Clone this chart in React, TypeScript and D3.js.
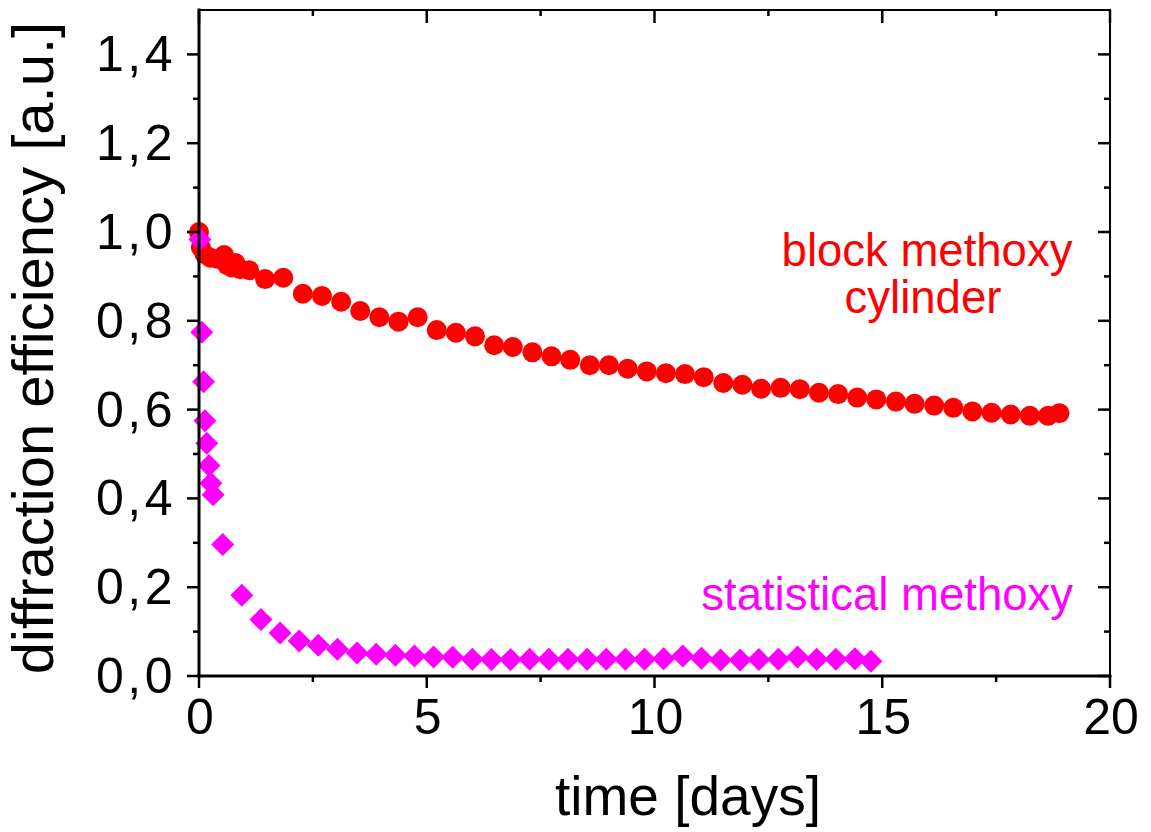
import React from "react";
import * as d3 from "d3";

// block methoxy cylinder (red circles): [time in days, diffraction efficiency]
const blockTime = [0, 0.04, 0.12, 0.25, 0.4, 0.55, 0.62, 0.72, 0.8, 0.9, 1.1, 1.45, 1.85, 2.28, 2.7, 3.12, 3.54, 3.96, 4.38, 4.8, 5.22, 5.64, 6.06, 6.48, 6.89, 7.32, 7.74, 8.15, 8.58, 9.0, 9.41, 9.83, 10.25, 10.67, 11.08, 11.51, 11.93, 12.34, 12.77, 13.19, 13.61, 14.03, 14.45, 14.87, 15.3, 15.71, 16.14, 16.56, 16.98, 17.4, 17.82, 18.24, 18.64, 18.89];
const blockValue = [1.0, 0.965, 0.95, 0.942, 0.94, 0.948, 0.925, 0.92, 0.93, 0.916, 0.914, 0.894, 0.897, 0.861, 0.856, 0.843, 0.822, 0.808, 0.798, 0.808, 0.779, 0.773, 0.765, 0.745, 0.741, 0.729, 0.72, 0.712, 0.7, 0.7, 0.692, 0.686, 0.682, 0.68, 0.673, 0.66, 0.656, 0.647, 0.649, 0.646, 0.638, 0.635, 0.627, 0.623, 0.618, 0.613, 0.609, 0.604, 0.596, 0.593, 0.589, 0.586, 0.586, 0.592];

// statistical methoxy (magenta diamonds)
const statTime = [0.02, 0.06, 0.1, 0.13, 0.17, 0.22, 0.26, 0.31, 0.52, 0.94, 1.36, 1.78, 2.2, 2.62, 3.04, 3.47, 3.89, 4.31, 4.73, 5.15, 5.57, 6.0, 6.42, 6.84, 7.26, 7.68, 8.1, 8.52, 8.94, 9.36, 9.78, 10.2, 10.62, 11.03, 11.45, 11.88, 12.29, 12.72, 13.14, 13.56, 13.98, 14.4, 14.75];
const statValue = [0.983, 0.774, 0.663, 0.575, 0.524, 0.474, 0.434, 0.408, 0.296, 0.182, 0.127, 0.097, 0.079, 0.069, 0.06, 0.052, 0.049, 0.047, 0.045, 0.043, 0.042, 0.038, 0.037, 0.037, 0.038, 0.038, 0.038, 0.038, 0.038, 0.038, 0.038, 0.039, 0.045, 0.04, 0.036, 0.036, 0.037, 0.038, 0.043, 0.038, 0.038, 0.039, 0.033];

const xMajorTicks = [0, 5, 10, 15, 20];
const xMinorTicks = [2.5, 7.5, 12.5, 17.5];
const yMajorTicks = [0, 0.2, 0.4, 0.6, 0.8, 1.0, 1.2, 1.4];
const yMinorTicks = [0.1, 0.3, 0.5, 0.7, 0.9, 1.1, 1.3];

const xTitle = "time [days]";
const yTitle = "diffraction efficiency [a.u.]";
const blockLabel = ["block methoxy", "cylinder"];
const statLabel = "statistical methoxy";

const W = 1151;
const H = 832;
const L = 199, R = 1110, T = 10, B = 676;
const FONT = "'Liberation Sans', Arial, Helvetica, sans-serif";

export default function App() {
  const x = d3.scaleLinear().domain([0, 20]).range([L, R]);
  const y = d3.scaleLinear().domain([0, 1.5]).range([B, T]);
  const fmt = (v: number) => v.toFixed(1).replace(".", ",");
  const r = 11.5;
  const dPath = `M0,${-r}L${r},0L0,${r}L${-r},0Z`;

  return (
    <svg width={W} height={H} style={{ position: "absolute", left: 0, top: 0, background: "#fff" }} fontFamily={FONT}>
      <rect x={0} y={0} width={W} height={H} fill="#fff" />
      {/* data */}
      <g fill="#ff0000">
        {blockTime.map((t, i) => (
          <circle key={i} cx={x(t)} cy={y(blockValue[i])} r={10} />
        ))}
      </g>
      <g fill="#ff00ff">
        {statTime.map((t, i) => (
          <path key={i} d={dPath} transform={`translate(${x(t)},${y(statValue[i])})`} />
        ))}
      </g>

      {/* frame */}
      <g stroke="#000" strokeLinecap="square">
        <line x1={L} x2={R} y1={T} y2={T} strokeWidth={2} />
        <line x1={R} x2={R} y1={T} y2={B} strokeWidth={2} />
        <line x1={L} x2={L} y1={T} y2={B} strokeWidth={3} />
        <line x1={L} x2={R} y1={B} y2={B} strokeWidth={3} />
      </g>

      {/* ticks */}
      <g stroke="#000" strokeWidth={2.5}>
        {xMajorTicks.map((v) => (
          <g key={"xM" + v}>
            <line x1={x(v)} x2={x(v)} y1={B} y2={B + 12} />
            <line x1={x(v)} x2={x(v)} y1={T} y2={T + 13} />
          </g>
        ))}
        {xMinorTicks.map((v) => (
          <g key={"xm" + v}>
            <line x1={x(v)} x2={x(v)} y1={B} y2={B + 6} />
            <line x1={x(v)} x2={x(v)} y1={T} y2={T + 6} />
          </g>
        ))}
        {yMajorTicks.map((v) => (
          <g key={"yM" + v}>
            <line x1={L - 12} x2={L} y1={y(v)} y2={y(v)} />
            <line x1={R - 12} x2={R} y1={y(v)} y2={y(v)} />
          </g>
        ))}
        {yMinorTicks.map((v) => (
          <g key={"ym" + v}>
            <line x1={L - 6} x2={L} y1={y(v)} y2={y(v)} />
            <line x1={R - 6} x2={R} y1={y(v)} y2={y(v)} />
          </g>
        ))}
      </g>

      {/* tick labels */}
      <g fontSize={50} fill="#000">
        {xMajorTicks.map((v) => (
          <text key={"xl" + v} x={x(v) + 1} y={734} textAnchor="middle">{v}</text>
        ))}
        {yMajorTicks.map((v) => (
          <text key={"yl" + v} x={176} y={y(v)} textAnchor="end" dominantBaseline="central" letterSpacing={3.5}>{fmt(v)}</text>
        ))}
      </g>

      {/* axis titles */}
      <text x={688} y={815} textAnchor="middle" fontSize={55} fill="#000">{xTitle}</text>
      <text transform="translate(53,348) rotate(-90)" textAnchor="middle" fontSize={58} fill="#000">{yTitle}</text>

      {/* annotations */}
      <g fill="#ff0000" fontSize={45.5} textAnchor="middle">
        <text x={927} y={266}>{blockLabel[0]}</text>
        <text x={923} y={313}>{blockLabel[1]}</text>
      </g>
      <text x={1073} y={610} fill="#ff00ff" fontSize={45.5} textAnchor="end">{statLabel}</text>
    </svg>
  );
}
